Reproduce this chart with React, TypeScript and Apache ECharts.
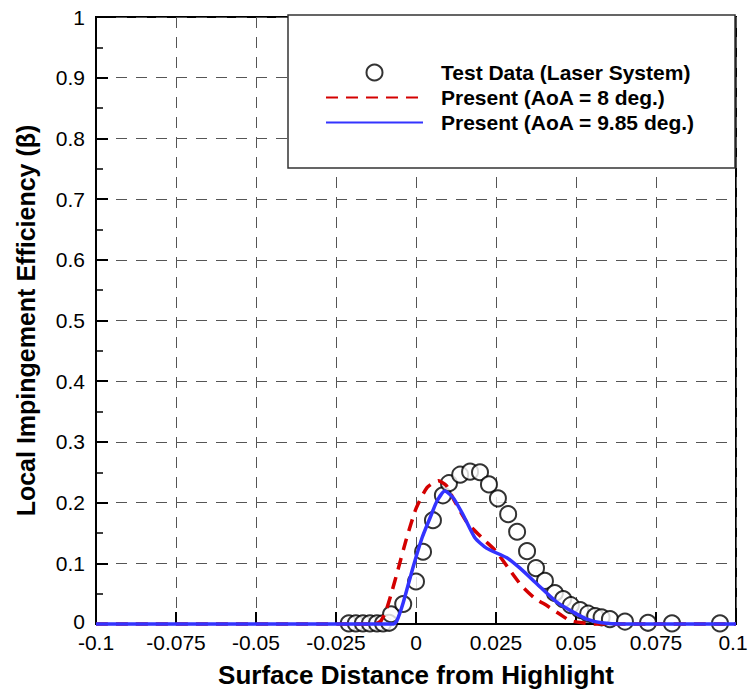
import React, { useEffect, useRef } from "react";
import * as echarts from "echarts";

// Test data (laser system)
const testX = [
  -0.021, -0.0188, -0.0166, -0.0144, -0.0122, -0.0103, -0.0084,
  -0.0078, -0.004, 0.0, 0.0022, 0.0053, 0.0084, 0.0103, 0.0138, 0.0169, 0.02,
  0.0228, 0.0256, 0.0288, 0.0316, 0.0347, 0.0375, 0.0403, 0.0434, 0.046,
  0.0484, 0.0513, 0.0538, 0.056, 0.058, 0.0606, 0.0653, 0.0725, 0.08, 0.095,
];
const testY = [
  0.001, 0.001, 0.001, 0.001, 0.001, 0.001, 0.002,
  0.016, 0.033, 0.07, 0.119, 0.171, 0.212, 0.232, 0.246, 0.251, 0.25,
  0.23, 0.207, 0.181, 0.152, 0.12, 0.092, 0.071, 0.051, 0.041,
  0.031, 0.023, 0.017, 0.013, 0.011, 0.008, 0.004, 0.002, 0.001, 0.001,
];

// Present (AoA = 8 deg.)
const aoa8X = [
  -0.1, -0.013, -0.011, -0.0095, -0.0075, -0.0056, -0.003, 0.0, 0.0035, 0.007,
  0.0095, 0.012, 0.016, 0.021, 0.025, 0.029, 0.033, 0.037, 0.041, 0.045,
  0.048, 0.052, 0.056, 0.1,
];
const aoa8Y = [
  0, 0, 0.005, 0.02, 0.054, 0.09, 0.14, 0.19, 0.225, 0.236,
  0.228, 0.203, 0.167, 0.14, 0.12, 0.091, 0.063, 0.043, 0.03, 0.016,
  0.006, 0.002, 0, 0,
];

// Present (AoA = 9.85 deg.)
const aoa985X = [
  -0.1, -0.007, -0.006, -0.004, -0.001, 0.0019, 0.0044, 0.0066, 0.009, 0.0116,
  0.0147, 0.0184, 0.022, 0.0284, 0.0325, 0.0378, 0.044, 0.049, 0.0534, 0.058,
  0.065, 0.1,
];
const aoa985Y = [
  0, 0, 0.005, 0.035, 0.092, 0.142, 0.175, 0.203, 0.219, 0.208,
  0.18, 0.142, 0.125, 0.109, 0.092, 0.066, 0.036, 0.02, 0.008, 0.002,
  0, 0,
];

const seriesNames = [
  "Test Data (Laser System)",
  "Present (AoA = 8 deg.)",
  "Present (AoA = 9.85 deg.)",
];

const zip = (xs: number[], ys: number[]) => xs.map((x, i) => [x, ys[i]]);

const FONT = "Arial, 'Liberation Sans', sans-serif";

export default function App() {
  const ref = useRef<HTMLDivElement>(null);
  useEffect(() => {
    if (!ref.current) return;
    const chart = echarts.init(ref.current, null, { renderer: "svg" });
    chart.setOption({
      animation: false,
      backgroundColor: "#ffffff",
      textStyle: { fontFamily: FONT },
      grid: {
        left: 96,
        right: 12,
        top: 17,
        bottom: 71,
        outerBoundsMode: "none",
        containLabel: false,
        show: true,
        borderColor: "#000",
        borderWidth: 2,
        backgroundColor: "transparent",
      },
      xAxis: {
        type: "value",
        min: -0.1,
        max: 0.1,
        interval: 0.025,
        name: "Surface Distance from Highlight",
        nameLocation: "middle",
        nameGap: 38,
        nameTextStyle: { fontFamily: FONT, fontSize: 26, fontWeight: "bold", color: "#000" },
        axisLine: { show: true, onZero: false, lineStyle: { color: "#000", width: 2 } },
        axisTick: { show: true, inside: true, length: 12, lineStyle: { color: "#000", width: 2 } },
        axisLabel: {
          color: "#000",
          fontSize: 21,
          lineHeight: 16,
          fontFamily: FONT,
          margin: 10,
          showMinLabel: true,
          showMaxLabel: true,
          formatter: (v: number) => {
            const s = String(Number(v.toFixed(3)));
            return v >= 0.0999 ? "{m|" + s + "}" : s;
          },
          rich: {
            m: { fontSize: 21, lineHeight: 16, fontFamily: FONT, color: "#000", padding: [0, 6, 0, 0] },
          },
        },
        splitLine: { show: true, lineStyle: { color: "#555", width: 1, type: [11, 9] } },
      },
      yAxis: {
        type: "value",
        min: 0,
        max: 1,
        interval: 0.1,
        name: "Local Impingement Efficiency (β)",
        nameLocation: "middle",
        nameGap: 58,
        nameTextStyle: { fontFamily: FONT, fontSize: 25, fontWeight: "bold", color: "#000" },
        axisLine: { show: true, onZero: false, lineStyle: { color: "#000", width: 2 } },
        axisTick: { show: true, inside: true, length: 12, lineStyle: { color: "#000", width: 2 } },
        minorTick: { show: true, splitNumber: 2, length: 7, lineStyle: { color: "#000", width: 1.5 } },
        axisLabel: {
          color: "#000",
          fontSize: 21,
          lineHeight: 16,
          fontFamily: FONT,
          margin: 11,
          formatter: (v: number) => {
            const s = String(Number(v.toFixed(1)));
            return v === 0 ? "{z|" + s + "}" : s;
          },
          rich: {
            z: { fontSize: 21, lineHeight: 16, fontFamily: FONT, color: "#000", padding: [0, 0, 6, 0] },
          },
        },
        splitLine: { show: true, lineStyle: { color: "#555", width: 1, type: [11, 9] } },
      },
      graphic: [
        {
          type: "rect",
          z: 10,
          shape: { x: 288, y: 15, width: 447, height: 153 },
          style: { fill: "#ffffff", stroke: "#333", lineWidth: 1.5 },
        },
      ],
      legend: {
        z: 11,
        orient: "vertical",
        left: 325,
        top: 62,
        padding: 0,
        itemWidth: 97,
        itemHeight: 16,
        itemGap: 4,
        data: [
          { name: seriesNames[0] },
          { name: seriesNames[1], itemStyle: { opacity: 0, color: "transparent", borderWidth: 0 } },
          { name: seriesNames[2], itemStyle: { opacity: 0, color: "transparent", borderWidth: 0 } },
        ],
        textStyle: {
          fontFamily: FONT,
          fontSize: 21,
          fontWeight: "bold",
          color: "#000",
          lineHeight: 21,
          padding: [0, 0, 0, 13],
        },
      },
      series: [
        {
          name: seriesNames[0],
          type: "scatter",
          data: zip(testX, testY),
          symbol: "emptyCircle",
          symbolSize: 16,
          itemStyle: { color: "#000", borderColor: "#000", borderWidth: 2 },
          z: 3,
          clip: false,
        },
        {
          name: seriesNames[1],
          type: "line",
          data: zip(aoa8X, aoa8Y),
          showSymbol: false,
          symbol: "none",
          smooth: 0.2,
          lineStyle: { color: "#d40000", width: 3.5, type: [12, 8] },
          itemStyle: { color: "#d40000" },
          z: 4,
          clip: false,
        },
        {
          name: seriesNames[2],
          type: "line",
          data: zip(aoa985X, aoa985Y),
          showSymbol: false,
          symbol: "none",
          smooth: 0.2,
          lineStyle: { color: "#3333ff", width: 3.5 },
          itemStyle: { color: "#3333ff" },
          z: 5,
          clip: false,
        },
      ],
    });
    return () => chart.dispose();
  }, []);
  return (
    <div
      ref={ref}
      style={{ position: "absolute", left: 0, top: 0, width: 748, height: 695 }}
    />
  );
}
